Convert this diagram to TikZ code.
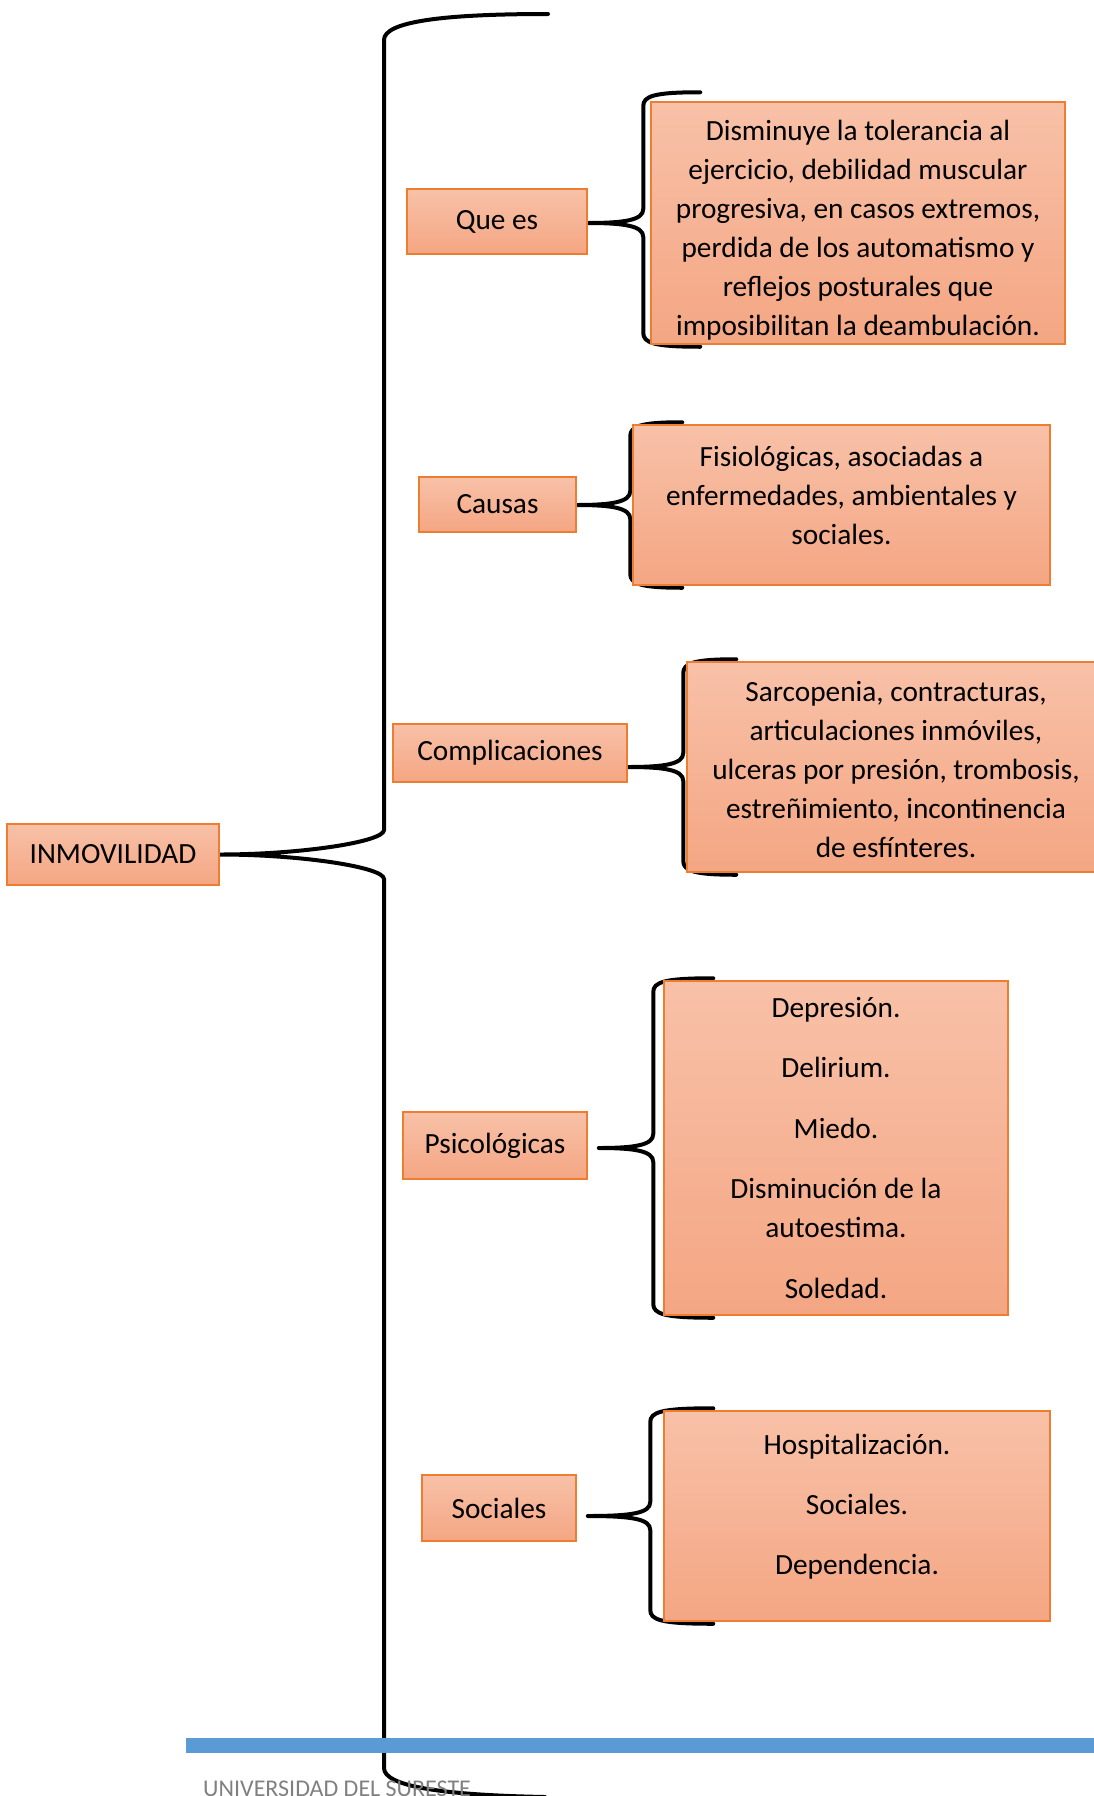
\documentclass[tikz,border=0pt]{standalone}
\usepackage{fontspec}
\setmainfont{Carlito}
\usetikzlibrary{calc,positioning,backgrounds}

\definecolor{naranja}{HTML}{ED7D31}
\definecolor{salmonA}{HTML}{F8C1A8}
\definecolor{salmonB}{HTML}{F4A683}
\definecolor{azulpie}{HTML}{5B9BD5}
\definecolor{grispie}{HTML}{808080}

\tikzset{
  caja/.style={draw=naranja, line width=1.5pt, top color=salmonA, bottom color=salmonB,
    inner sep=0pt, align=center, font=\fontsize{29.3}{39}\selectfont},
  texto/.style={inner sep=0pt, align=center, font=\fontsize{29.3}{39}\selectfont},
  llave/.style={line width=4pt, line cap=round, line join=round},
}

% llave: nodo origen, caja destino, hueco en la punta, distancia a la caja, extra arriba
\newcommand{\llave}[5]{%
  \draw[llave] let \p1=(#1.east |- #2.west), \p2=(#2.north west), \p3=(#2.south west) in
    (\x2+50,\y2+2+#5) .. controls (\x2-#4+10,\y2+2+#5) and (\x2-#4,\y2-2+#5) .. (\x2-#4,\y2-12+#5)
    -- (\x2-#4,\y1+14) .. controls (\x2-#4,\y1+3) and (\x2-#4-18,\y1) .. (\x1+#3,\y1)
    .. controls (\x2-#4-18,\y1) and (\x2-#4,\y1-3) .. (\x2-#4,\y1-14)
    -- (\x2-#4,\y3+12) .. controls (\x2-#4,\y3+2) and (\x2-#4+10,\y3-2) .. (\x2+50,\y3-2);
}

\begin{document}
\begin{tikzpicture}[x=1pt,y=-1pt]
	\useasboundingbox (0,0) rectangle (1094,1796);

	%Pie de pagina
	\fill[azulpie] (186,1738) rectangle (1094,1753);
	\node[anchor=base west, text=grispie, inner sep=0pt, font=\fontsize{24}{28}\selectfont] (pie) at (203,1796.5) {UNIVERSIDAD DEL SURESTE};

	%Tema
	\node[caja, minimum width=212, minimum height=61] (nInmov) at (113,854.5) {INMOVILIDAD};

	%Subtemas
	\node[caja, minimum width=180, minimum height=65] (nQue) at (497,221.5) {Que es};
	\node[caja, minimum width=157, minimum height=55] (nCausas) at (497.5,504.5) {Causas};
	\node[caja, minimum width=234, minimum height=58] (nCompl) at (510,753) {Complicaciones};
	\node[caja, minimum width=184, minimum height=67] (nPsico) at (495,1145.5) {Psicológicas};
	\node[caja, minimum width=154, minimum height=66] (nSoc) at (499,1508) {Sociales};

	%Descripciones
	\node[caja, minimum width=414, minimum height=242] (dQue) at (858,223) {};
	\node[texto, yshift=-7.5pt] (tQue) at (dQue)
		{Disminuye la tolerancia al\\ ejercicio, debilidad muscular\\ progresiva, en casos extremos,\\
		 perdida de los automatismo y\\ reflejos posturales que\\ imposibilitan la deambulación.};
	\node[caja, minimum width=417, minimum height=160] (dCausas) at (841.5,505) {};
	\node[texto, yshift=10pt] (tCausas) at (dCausas)
		{Fisiológicas, asociadas a\\ enfermedades, ambientales y\\ sociales.};
	\node[caja, minimum width=418, minimum height=210] (dCompl) at (896,767) {};
	\node[texto, yshift=-3pt] (tCompl) at (dCompl)
		{Sarcopenia, contracturas,\\ articulaciones inmóviles,\\ ulceras por presión, trombosis,\\
		 estreñimiento, incontinencia\\ de esfínteres.};
	\node[caja, minimum width=344, minimum height=334] (dPsico) at (836,1148) {};
	\node[texto] (tPsico) at (dPsico)
		{Depresión.\\[21.5pt] Delirium.\\[21.5pt] Miedo.\\[21.5pt] Disminución de la\\ autoestima.\\[21.5pt] Soledad.};
	\node[caja, minimum width=386, minimum height=210] (dSoc) at (857,1516) {};
	\node[texto, yshift=9pt] (tSoc) at (dSoc)
		{Hospitalización.\\[21pt] Sociales.\\[21pt] Dependencia.};

	%Llaves
	\begin{scope}[on background layer]
		\coordinate (llaveSup) at (548,14);
		\coordinate (llaveInf) at (545,1797);
		\draw[llave] (llaveSup) .. controls (440,14) and (384,22) .. (384,40) -- (384,830)
			.. controls (384,842) and (300,854.5) .. (nInmov.east)
			.. controls (300,854.5) and (384,867) .. (384,879) -- (384,1768)
			.. controls (384,1786) and (440,1795) .. (llaveInf);
		\llave{nQue}{dQue}{0}{7}{7}
		\llave{nCausas}{dCausas}{0}{2}{0}
		\llave{nCompl}{dCompl}{0}{3}{0}
		\llave{nPsico}{dPsico}{11}{10}{0}
		\llave{nSoc}{dSoc}{11}{13}{0}
	\end{scope}

\end{tikzpicture}
\end{document}
